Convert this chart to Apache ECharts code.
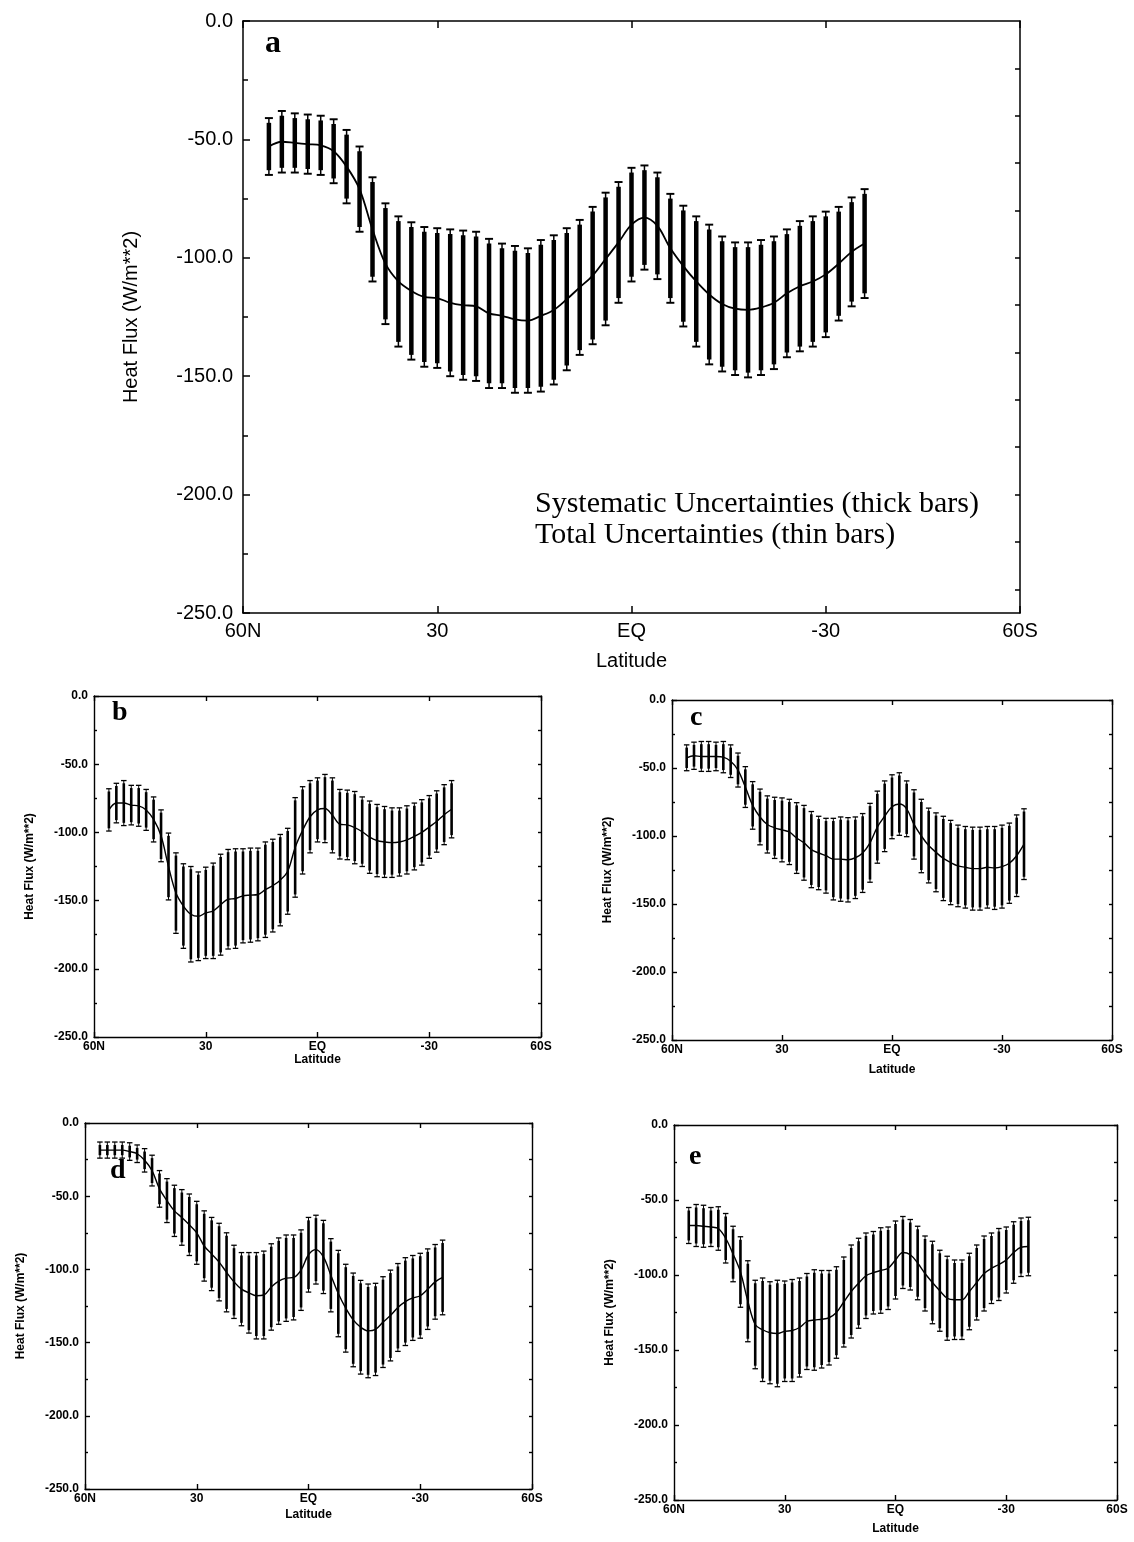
<!DOCTYPE html>
<html>
<head>
<meta charset="utf-8">
<script src="https://cdn.jsdelivr.net/npm/echarts@6/dist/echarts.min.js"></script>
<style>
  html, body { margin: 0; padding: 0; background: #fff; }
  #chart { width: 1134px; height: 1542px; }
</style>
</head>
<body>
<div id="chart"></div>
<script>
// latitude of each estimate (degrees, N positive)
const lats = [56, 54, 52, 50, 48, 46, 44, 42, 40, 38, 36, 34, 32, 30, 28, 26, 24, 22, 20, 18, 16, 14, 12, 10, 8, 6, 4, 2, 0,
  -2, -4, -6, -8, -10, -12, -14, -16, -18, -20, -22, -24, -26, -28, -30, -32, -34, -36]

// panel a
const meanA = [-53, -51, -51.5, -52, -52.5, -55, -61.5, -71, -88, -102.5, -110, -114, -116.5, -117, -119, -120, -120.5, -123.5, -124.5, -126, -126.5, -124.5, -122, -117.5, -112.5, -107.5, -100.5, -93.5, -86,
  -83, -86.5, -96, -103.5, -110, -115.5, -119.5, -121.5, -122, -121, -119, -115, -112, -110, -107, -102.5, -97.5, -94]
const totA = [12, 13, 12.5, 12.5, 12.5, 13.5, 15.5, 18, 22, 25.5, 27.5, 29, 29.5, 29.5, 31, 31.5, 31.5, 31.5, 30.5, 31, 30.5, 32, 31.5, 30, 28.5, 29, 28, 25.5, 24,
  22, 22.5, 23, 25.5, 27.5, 29.5, 28.5, 28, 28.5, 28.5, 28, 27, 27.5, 27.5, 26.5, 24, 23, 23]
const sysA = [10, 11, 10.5, 10.5, 10.5, 11.5, 13.5, 16, 20, 23.5, 25.5, 27, 27.5, 27.5, 29, 29.5, 29.5, 29.5, 28.5, 29, 28.5, 30, 29.5, 28, 26.5, 27, 26, 23.5, 22,
  20, 20.5, 21, 23.5, 25.5, 27.5, 26.5, 26, 26.5, 26.5, 26, 25, 25.5, 25.5, 24.5, 22, 21, 21]

// panel b
const meanB = [-83.5, -78.5, -78.5, -80, -80.5, -83.5, -90.5, -102.5, -125, -144.5, -154, -160, -161.5, -159, -157.5, -153, -149, -148.5, -146.5, -146, -145.5, -142, -139, -135, -128.5, -111, -98.5, -88.5, -83.5,
  -82.5, -87.5, -94, -94.5, -96.5, -99.5, -103.5, -106, -107, -107.5, -107, -105.5, -103, -100, -96, -92, -87, -83]
const totB = [15.5, 14.5, 16.5, 14.5, 15, 15, 16.5, 19, 24.5, 29.5, 31, 35, 32.5, 33.5, 35, 37, 36.5, 36.5, 34.5, 34.5, 34, 35, 34, 33.5, 31.5, 36.5, 32, 26.5, 23.5,
  25, 27.5, 25.5, 25.5, 26.5, 25.5, 26.5, 26.5, 26, 25.5, 25, 25, 24.5, 24, 23, 22.5, 22, 21]
const sysB = [13.5, 12.5, 14.5, 12.5, 13, 13, 14.5, 17, 22.5, 27.5, 29, 33, 30.5, 31.5, 33, 35, 34.5, 34.5, 32.5, 32.5, 32, 33, 32, 31.5, 29.5, 34.5, 30, 24.5, 21.5,
  23, 25.5, 23.5, 23.5, 24.5, 23.5, 24.5, 24.5, 24, 23.5, 23, 23, 22.5, 22, 21, 20.5, 20, 19]

// panel c
const meanC = [-42.5, -41, -41.5, -41.5, -41.5, -42, -45, -51.5, -64, -77.5, -86, -91.5, -94, -95.5, -97, -101.5, -105, -110, -112.5, -114.5, -117, -117, -117.5, -116, -112.5, -105, -93.5, -85.5, -78.5,
  -76.5, -80, -91.5, -100, -107, -112, -116.5, -119.5, -122, -123, -124, -124, -123, -123.5, -122.5, -120, -114.5, -106]
const totC = [9.5, 10, 11, 11, 10.5, 11.5, 12, 12.5, 15, 17.5, 20.5, 21, 22.5, 23.5, 24, 26, 27.5, 28, 27, 27.5, 30, 31, 31, 30, 29, 29, 26.5, 26, 23.5,
  23, 20.5, 25.5, 27, 27.5, 29, 31, 31, 30, 30, 30.5, 30.5, 30, 30.5, 30.5, 29.5, 30, 26]
const sysC = [7.5, 8, 9, 9, 8.5, 9.5, 10, 10.5, 13, 15.5, 18.5, 19, 20.5, 21.5, 22, 24, 25.5, 26, 25, 25.5, 28, 29, 29, 28, 27, 27, 24.5, 24, 21.5,
  21, 18.5, 23.5, 25, 25.5, 27, 29, 29, 28, 28, 28.5, 28.5, 28, 28.5, 28.5, 27.5, 28, 24]

// panel d
const meanD = [-18.5, -18.5, -18.5, -18.5, -19.5, -21, -25.5, -32.5, -45, -53, -60, -64.5, -69.5, -75, -84, -89.5, -95, -102, -108.5, -113.5, -116, -118, -117.5, -112, -108, -106, -105.5, -100.5, -90,
  -86.5, -91.5, -104, -116.5, -126.5, -134.5, -139.5, -142, -141, -136, -131.5, -126, -122, -119.5, -118, -113.5, -108.5, -105.5]
const totD = [5.5, 5.5, 5.5, 5.5, 6, 6, 8, 10.5, 12.5, 15, 17.5, 19, 21, 21.5, 24, 25, 26.5, 27, 25, 25, 27.5, 29.5, 30, 29.5, 29.5, 29.5, 29, 27.5, 25.5,
  23.5, 25, 25, 29.5, 30, 32, 32, 32, 31.5, 31, 31, 30, 30, 29, 29, 27.5, 25.5, 25.5]
const sysD = [3.5, 3.5, 3.5, 3.5, 4, 4, 6, 8.5, 10.5, 13, 15.5, 17, 19, 19.5, 22, 23, 24.5, 25, 23, 23, 25.5, 27.5, 28, 27.5, 27.5, 27.5, 27, 25.5, 23.5,
  21.5, 23, 23, 27.5, 28, 30, 30, 30, 29.5, 29, 29, 28, 28, 27, 27, 25.5, 23.5, 23.5]

// panel e
const meanE = [-67, -67, -67.5, -68, -69, -75.5, -86, -98, -117.5, -133, -136.5, -138.5, -139, -137.5, -137, -135, -131, -130, -129.5, -128.5, -125, -118, -111, -105.5, -100.5, -98.5, -97, -95.5, -90,
  -85, -86.5, -92, -99, -105, -110.5, -115.5, -116.5, -116.5, -111, -105, -99, -95.5, -93, -90, -85, -81.5, -81]
const totE = [12, 14, 14, 13, 14.5, 16.5, 18.5, 23.5, 27, 29.5, 34.5, 34, 35.5, 33.5, 34, 33, 32, 33.5, 32.5, 31.5, 30.5, 30, 31, 30, 28.5, 27.5, 28.5, 27.5, 26,
  24, 23.5, 24.5, 25, 27.5, 27, 28, 26.5, 26.5, 25.5, 25, 25, 23.5, 24, 22, 20.5, 19.5, 19.5]
const sysE = [10, 12, 12, 11, 12.5, 14.5, 16.5, 21.5, 25, 27.5, 32.5, 32, 33.5, 31.5, 32, 31, 30, 31.5, 30.5, 29.5, 28.5, 28, 29, 28, 26.5, 25.5, 26.5, 25.5, 24,
  22, 21.5, 22.5, 23, 25.5, 25, 26, 24.5, 24.5, 23.5, 23, 23, 21.5, 22, 20, 18.5, 17.5, 17.5]

const latTicks = { '60': '60N', '30': '30', '0': 'EQ', '-30': '-30', '-60': '60S' }
const yTitle = 'Heat Flux (W/m**2)'
const legendLines = ['Systematic Uncertainties (thick bars)', 'Total Uncertainties (thin bars)']

const bigStyle = {
  font: 20, weight: 'normal', nameFont: 20, tick: 7, minor: 5, axisWidth: 1.5, letterSize: 32,
  thick: 4.5, thin: 1.5, cap: 8, line: 1.8, labelMargin: 8, yNameGap: 102, xNameGap: 38
}
const smallStyle = {
  font: 12, weight: 'bold', nameFont: 12, tick: 5, minor: 3, axisWidth: 1.4, letterSize: 28,
  thick: 2.6, thin: 1, cap: 5.5, line: 1.4, labelMargin: 4, yNameGap: 58, xNameGap: 16
}

const panels = [
  { letter: 'a', mean: meanA, tot: totA, sys: sysA, st: bigStyle, box: { left: 243, top: 21, width: 777, height: 592 }, letterAt: [275, 45], rightTicks: [-20, -40, -60, -80, -100, -120, -140, -160, -180, -200, -220, -240] },
  { letter: 'b', mean: meanB, tot: totB, sys: sysB, st: { ...smallStyle, xNameGap: 13 }, box: { left: 94, top: 696, width: 447, height: 341 }, letterAt: [122, 716] },
  { letter: 'c', mean: meanC, tot: totC, sys: sysC, st: { ...smallStyle, xNameGap: 24 }, box: { left: 672, top: 700, width: 440, height: 340 }, letterAt: [700, 721] },
  { letter: 'd', mean: meanD, tot: totD, sys: sysD, st: { ...smallStyle, xNameGap: 20 }, box: { left: 85, top: 1123, width: 447, height: 366 }, letterAt: [120, 1174] },
  { letter: 'e', mean: meanE, tot: totE, sys: sysE, st: { ...smallStyle, xNameGap: 23 }, box: { left: 674, top: 1125, width: 443, height: 375 }, letterAt: [699, 1160] }
]

const sansFont = '"Liberation Sans", Arial, sans-serif'
const serifFont = '"Liberation Serif", "Times New Roman", serif'

const errorBars = (st) => (params, api) => {
  const lat = api.value(0)
  const m = api.value(1)
  const t = api.value(2)
  const s = api.value(3)
  const top = api.coord([lat, m + t])
  const bot = api.coord([lat, m - t])
  const sTop = api.coord([lat, m + s])
  const sBot = api.coord([lat, m - s])
  const x = top[0]
  const stroke = { stroke: '#000', lineWidth: st.thin }
  const capStroke = { stroke: '#000', lineWidth: st.thin * 1.3 }
  return {
    type: 'group',
    children: [
      { type: 'line', shape: { x1: x, y1: top[1], x2: x, y2: bot[1] }, style: stroke },
      { type: 'rect', shape: { x: x - st.thick / 2, y: sTop[1], width: st.thick, height: sBot[1] - sTop[1] }, style: { fill: '#000' } },
      { type: 'line', shape: { x1: x - st.cap / 2, y1: top[1], x2: x + st.cap / 2, y2: top[1] }, style: capStroke },
      { type: 'line', shape: { x1: x - st.cap / 2, y1: bot[1], x2: x + st.cap / 2, y2: bot[1] }, style: capStroke }
    ]
  }
}

const grids = []
const xAxes = []
const yAxes = []
const series = []
const graphics = []

panels.forEach((p, i) => {
  const st = p.st
  grids.push({ ...p.box, containLabel: false })
  const lineStyle = { color: '#000', width: st.axisWidth }
  const labelStyle = { color: '#000', fontFamily: sansFont, fontSize: st.font, fontWeight: st.weight }

  xAxes.push({
    type: 'value', gridIndex: i, min: -60, max: 60, interval: 30, inverse: true,
    name: 'Latitude', nameLocation: 'middle', nameGap: st.xNameGap,
    nameTextStyle: { ...labelStyle, fontSize: st.nameFont },
    axisLine: { show: true, onZero: false, lineStyle },
    axisTick: { show: true, inside: true, length: st.tick, lineStyle },
    axisLabel: { ...labelStyle, margin: st.labelMargin, formatter: (v) => latTicks[String(v)] ?? String(v) },
    splitLine: { show: false }
  })
  xAxes.push({
    type: 'value', gridIndex: i, min: -60, max: 60, interval: 30, inverse: true, position: 'top',
    axisLine: { show: true, onZero: false, lineStyle },
    axisTick: { show: true, inside: true, length: st.tick, lineStyle },
    axisLabel: { show: false },
    splitLine: { show: false }
  })
  yAxes.push({
    type: 'value', gridIndex: i, min: -250, max: 0, interval: 50,
    name: yTitle, nameLocation: 'middle', nameRotate: 90, nameGap: st.yNameGap,
    nameTextStyle: { ...labelStyle, fontSize: st.nameFont },
    axisLine: { show: true, onZero: false, lineStyle },
    axisTick: { show: true, inside: true, length: st.tick, lineStyle },
    minorTick: { show: true, splitNumber: 2, length: st.minor, lineStyle },
    axisLabel: { ...labelStyle, margin: st.labelMargin + 2, formatter: (v) => v.toFixed(1) },
    splitLine: { show: false },
    minorSplitLine: { show: false }
  })
  const right = {
    type: 'value', gridIndex: i, min: -250, max: 0, interval: 50, position: 'right',
    axisLine: { show: true, onZero: false, lineStyle },
    axisTick: { show: true, inside: true, length: st.minor, lineStyle },
    minorTick: { show: true, splitNumber: 2, length: st.minor, lineStyle },
    axisLabel: { show: false },
    splitLine: { show: false }
  }
  if (p.rightTicks) {
    right.axisTick.customValues = p.rightTicks
    right.minorTick = { show: false }
  }
  yAxes.push(right)

  const rows = lats.map((lat, k) => [lat, p.mean[k], p.tot[k], p.sys[k]])
  series.push({
    type: 'custom', xAxisIndex: i * 2, yAxisIndex: i * 2,
    renderItem: errorBars(st), data: rows, encode: { x: 0, y: 1 }, silent: true, z: 3
  })
  series.push({
    type: 'line', xAxisIndex: i * 2, yAxisIndex: i * 2,
    data: lats.map((lat, k) => [lat, p.mean[k]]),
    smooth: 0.35, symbol: 'none', silent: true, z: 4,
    lineStyle: { color: '#000', width: st.line }
  })

  graphics.push({
    type: 'text', left: p.letterAt[0] - 10, top: p.letterAt[1] - 17,
    style: { text: p.letter, fill: '#000', font: `bold ${st.letterSize}px ${serifFont}` }
  })
})

graphics.push({
  type: 'text', left: 535, top: 489,
  style: { text: legendLines.join('\n'), fill: '#000', font: `30px ${serifFont}`, lineHeight: 31 }
})

const chart = echarts.init(document.getElementById('chart'), null, { renderer: 'canvas' })
chart.setOption({
  backgroundColor: '#fff',
  animation: false,
  grid: grids,
  xAxis: xAxes,
  yAxis: yAxes,
  series,
  graphic: graphics
})
window.addEventListener('resize', () => chart.resize())
</script>
</body>
</html>
